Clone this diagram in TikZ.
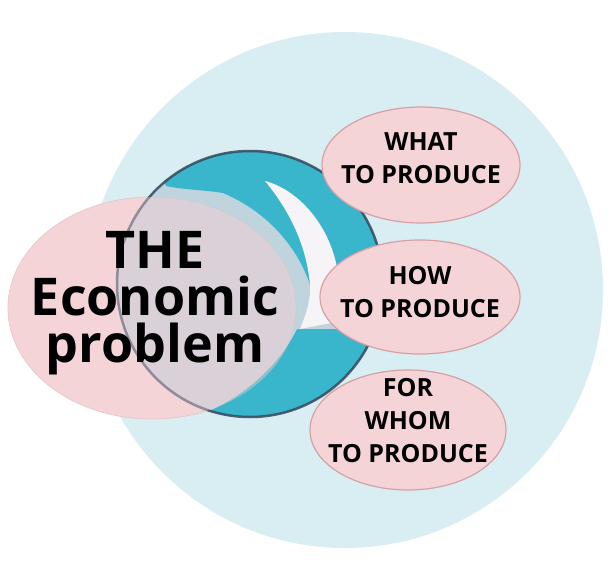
\documentclass[tikz,border=0pt]{standalone}
\usepackage{fontspec}
\setmainfont{Open Sans}
\usetikzlibrary{shapes.geometric}
\definecolor{bgblue}{RGB}{216,238,242}
\definecolor{ringteal}{RGB}{58,182,204}
\definecolor{ringline}{RGB}{52,72,92}
\definecolor{ringgray}{RGB}{184,204,216}
\definecolor{crescentwhite}{RGB}{246,244,246}
\definecolor{pinkfill}{RGB}{245,212,216}
\definecolor{pinkline}{RGB}{214,160,165}

\begin{document}
\begin{tikzpicture}[x=1pt, y=-1pt,
        question/.style={ellipse, draw=pinkline, line width=1.2pt, fill=pinkfill,
            inner xsep=-12pt, inner ysep=-12pt, align=center, font=\bfseries\fontsize{25}{33}\selectfont},
        bigtext/.style={align=center, font=\bfseries\fontsize{52}{47}\selectfont}]
    \useasboundingbox[fill=white] (0,0) rectangle (611,562);
    \fill[bgblue] (345,290) circle[radius=258];
    \fill[pinkfill, draw=pinkline!60, line width=0.8pt] (152,308) ellipse[x radius=144, y radius=111];
    \fill[ringgray, fill opacity=0.75] (250,284) circle[radius=133];
    \fill[ringteal] plot[domain=130:-14, samples=60] ({250+133*cos(\x)},{284-133*sin(\x)})
        -- (333,318) -- (310,285) .. controls (298,248) and (268,212) .. (223,193)
        .. controls (205,190) and (185,190) .. (166,186) -- cycle;
    \fill[ringteal] (297,329) -- plot[domain=-20:-107.5, samples=40] ({250+133*cos(\x)},{284-133*sin(\x)})
        .. controls (245,395) and (280,365) .. (297,329) -- cycle;
    \fill[crescentwhite] (265,181) .. controls (300,190) and (335,230) .. (339,282)
        .. controls (340,300) and (338,314) .. (336,322) -- (300,329)
        .. controls (307,312) and (311,298) .. (310,285)
        .. controls (307,250) and (293,215) .. (265,181) -- cycle;
    \draw[ringline, line width=2.5pt, draw opacity=0.85] (250,284) circle[radius=133];
    \fill[pinkfill, fill opacity=0.4] (152,308) ellipse[x radius=144, y radius=111];
    \node[bigtext] (econ) at (155,303) {THE\\Economic\\problem};
    \node[question, minimum width=198, minimum height=116, text depth=14pt] (what) at (421,165) {WHAT\\TO PRODUCE};
    \node[question, minimum width=200, minimum height=114, text depth=10pt] (how) at (420,297) {HOW\\TO PRODUCE};
    \node[question, minimum width=196, minimum height=120, text depth=20pt] (whom) at (408,430) {FOR\\WHOM\\TO PRODUCE};
\end{tikzpicture}
\end{document}
